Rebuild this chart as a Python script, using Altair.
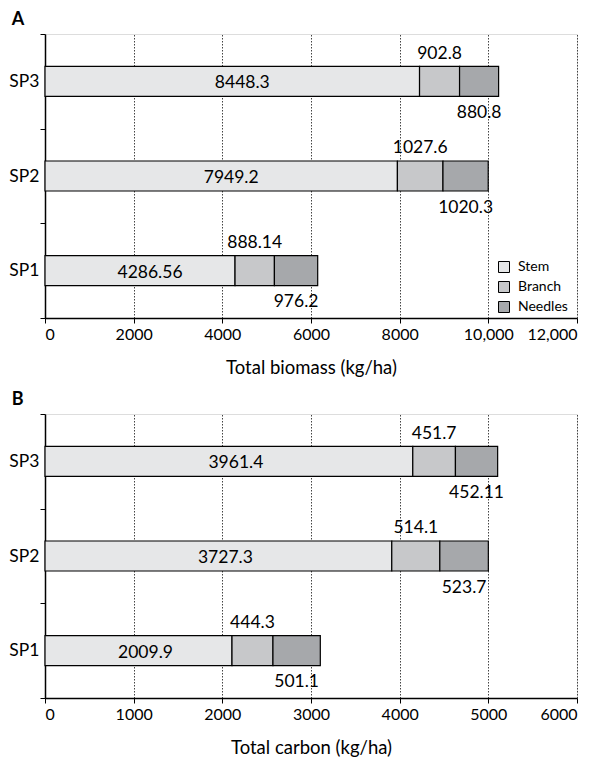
import altair as alt
import pandas as pd

species = ["SP1", "SP2", "SP3"]
parts = ["Stem", "Branch", "Needles"]
colors = ["#e6e7e8", "#c7c8ca", "#a6a8ab"]

# Panel A: total biomass (kg/ha)
bio_stem = [4286.56, 7949.2, 8448.3]
bio_branch = [888.14, 1027.6, 902.8]
bio_needles = [976.2, 1020.3, 880.8]
bio_stem_lbl = ["4286.56", "7949.2", "8448.3"]
bio_branch_lbl = ["888.14", "1027.6", "902.8"]
bio_needles_lbl = ["976.2", "1020.3", "880.8"]

# Panel B: total carbon (kg/ha) - bar lengths as drawn, labels as printed
car_stem = [2109, 3911, 4148]
car_branch = [462, 542, 481]
car_needles = [534, 547, 476]
car_stem_lbl = ["2009.9", "3727.3", "3961.4"]
car_branch_lbl = ["444.3", "514.1", "451.7"]
car_needles_lbl = ["501.1", "523.7", "452.11"]

FONT = "Lato"


def build_df(stem, branch, needles, sl, bl, nl):
    rows = []
    for i, sp in enumerate(species):
        start = 0.0
        for part, vals, lbls in zip(parts, [stem, branch, needles], [sl, bl, nl]):
            v = vals[i]
            rows.append({"species": sp, "part": part, "start": start,
                         "end": start + v, "mid": start + v / 2, "label": lbls[i]})
            start += v
    return pd.DataFrame(rows)


def panel(df, letter, xtitle, domain, tick_values, label_expr, stem_dx):
    y_enc = alt.Y("species:N", sort=["SP3", "SP2", "SP1"], title=None,
                  scale=alt.Scale(paddingInner=0, paddingOuter=0),
                  axis=alt.Axis(tickBand="extent", labelFontSize=17.5, labelPadding=1,
                                tickSize=5, tickColor="black", domainColor="black",
                                domainWidth=1.5, labelColor="black", labelFont=FONT))
    x_scale = alt.Scale(domain=domain, nice=False)
    x_axis = alt.Axis(values=tick_values, labelExpr=label_expr, title=xtitle,
                      grid=True, gridDash=[1.5, 1.5], gridColor="#444", gridWidth=1,
                      tickSize=5, tickColor="black", domainColor="black", domainWidth=1.5,
                      labelFontSize=16, labelPadding=3, titleFontSize=18.5,
                      titleFontWeight="normal", titlePadding=16, labelColor="black",
                      titleColor="black", labelFont=FONT, titleFont=FONT)

    bars = alt.Chart(df).mark_bar(size=30, stroke="black", strokeWidth=1.2).encode(
        x=alt.X("start:Q", scale=x_scale, axis=x_axis),
        x2="end:Q",
        y=y_enc,
        color=alt.Color("part:N", scale=alt.Scale(domain=parts, range=colors),
                        legend=alt.Legend(title=None, orient="none", legendX=452, legendY=226,
                                          symbolType="square", symbolSize=121,
                                          symbolStrokeColor="black", symbolStrokeWidth=1,
                                          labelFontSize=14, labelOffset=7, rowPadding=4,
                                          labelFont=FONT, labelColor="black", padding=0)),
        order=alt.Order("start:Q"),
    )

    base = alt.Chart(df).encode(
        x=alt.X("mid:Q", scale=x_scale),
        y=alt.Y("species:N", sort=["SP3", "SP2", "SP1"]),
        text="label:N",
    )
    stem_txt = base.transform_filter(alt.datum.part == "Stem").mark_text(
        fontSize=17.5, font=FONT, baseline="middle", dx=stem_dx, dy=2, color="black")
    branch_txt = base.transform_filter(alt.datum.part == "Branch").mark_text(
        fontSize=17.5, font=FONT, baseline="alphabetic", dy=-22.7, color="black")
    needle_txt = base.transform_filter(alt.datum.part == "Needles").mark_text(
        fontSize=17.5, font=FONT, baseline="alphabetic", dy=36.7, color="black")

    return alt.layer(bars, stem_txt, branch_txt, needle_txt).properties(
        width=532, height=284,
        title=alt.TitleParams(letter, anchor="start", frame="bounds", fontSize=18,
                              fontWeight="bold", font=FONT, color="black", offset=-4, dx=3),
    )


df_bio = build_df(bio_stem, bio_branch, bio_needles, bio_stem_lbl, bio_branch_lbl, bio_needles_lbl)
df_car = build_df(car_stem, car_branch, car_needles, car_stem_lbl, car_branch_lbl, car_needles_lbl)

pA = panel(df_bio, "A", "Total biomass (kg/ha)", [0, 12000],
           [0, 2000, 4000, 6000, 8000, 10000, 12000],
           "datum.value >= 10000 ? format(datum.value, ',') : format(datum.value, 'd')", 10)
pB = panel(df_car, "B", "Total carbon (kg/ha)", [0, 6000],
           [0, 1000, 2000, 3000, 4000, 5000, 6000],
           "format(datum.value, 'd')", 7)

chart = alt.vconcat(pA, pB, spacing=13).properties(
    padding={"left": 0, "top": 2, "right": 4, "bottom": 2}
).configure_view(stroke="black", strokeWidth=1.5).configure(font=FONT)

chart.save("out.html", embed_options={"renderer": "svg", "actions": False})
